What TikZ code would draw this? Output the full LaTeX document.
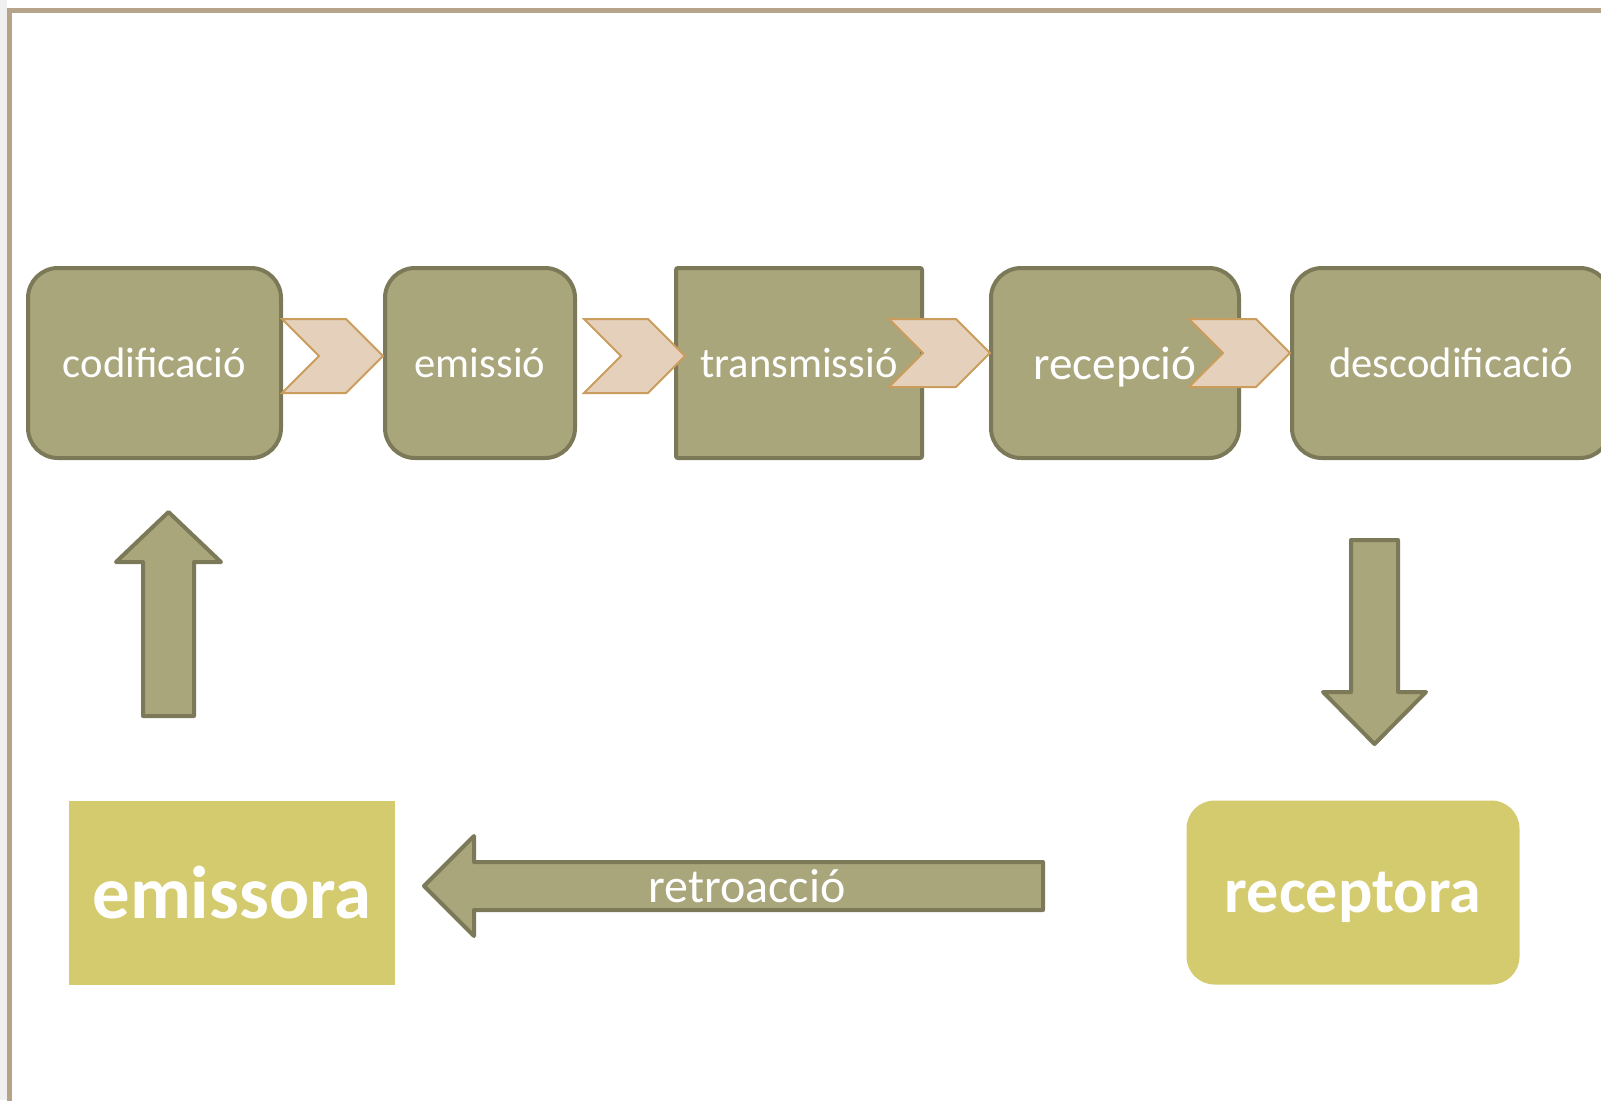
\documentclass[tikz,border=0pt]{standalone}
\usepackage{fontspec}
\setmainfont{Carlito}
\usetikzlibrary{shapes.symbols}
\definecolor{stagefill}{RGB}{169,166,124}
\definecolor{stageedge}{RGB}{124,121,89}
\definecolor{chevfill}{RGB}{228,208,187}
\definecolor{chevedge}{RGB}{203,157,92}
\definecolor{sand}{RGB}{211,203,110}
\definecolor{framecol}{RGB}{181,164,138}
\tikzset{
	stage/.style={
		draw=stageedge, fill=stagefill, line width=2pt,
		rectangle, rounded corners=15pt, minimum height=95pt,
		inner sep=0pt, text=white, font=\fontsize{21.3}{25}\selectfont
	},
	chevron/.style={
		signal, signal from=west, signal to=east, signal pointer angle=90,
		draw=chevedge, fill=chevfill, line width=1pt, inner sep=0pt,
		minimum width=50.5pt, minimum height=37pt
	},
	blockarrow/.style={
		draw=stageedge, fill=stagefill, line width=2pt, line join=round
	},
}

\begin{document}
\begin{tikzpicture}[x=0.5pt,y=-0.5pt,
		party/.style={
			fill=sand, inner sep=0pt, text=white,
			minimum width=163pt, minimum height=92pt,
			font=\bfseries\fontsize{37.4}{40}\selectfont
		}]
	\useasboundingbox (0,0) rectangle (1601,1100);
	\clip (0,0) rectangle (1601,1100);
	\fill[white] (0,0) rectangle (1601,1100);
	\fill[black!6] (0,0) rectangle (7,1100);
	\draw[framecol, line width=2.5pt] (1700,10) -- (9.5,10) -- (9.5,1200);

	\node[stage, minimum width=126.5pt] (cod) at (154.5,363) {codificació};
	\node[stage, minimum width=95pt] (emi) at (480,363) {emissió};
	\node[stage, rounded corners=1pt, minimum width=123pt] (tra) at (799,363) {transmissió};
	\node[stage, minimum width=124pt, text depth=0pt,
		font=\fontsize{23.6}{27}\selectfont] (rec) at (1115,363) {recepció};
	\node[stage, minimum width=159pt] (des) at (1451,363) {descodificació};

	\node[chevron] (ch1) at (332.5,356) {};
	\node[chevron] (ch2) at (634.5,356) {};
	\node[chevron, minimum height=34pt] (ch3) at (939.5,353) {};
	\node[chevron, minimum height=34pt] (ch4) at (1239.5,353) {};

	\node[party] (emis) at (231.8,892.5) {emissora};
	\node[party, rounded corners=14pt, minimum width=166.5pt, text depth=0pt,
		font=\bfseries\fontsize{32}{36}\selectfont] (recp) at (1353,892.5) {receptora};

	\draw[blockarrow] (143,716) -- (143,562) -- (116,562) -- (168.5,512)
		-- (221,562) -- (194,562) -- (194,716) -- cycle;
	\draw[blockarrow] (1351,540) -- (1398,540) -- (1398,692) -- (1426,692)
		-- (1374.5,744) -- (1323,692) -- (1351,692) -- cycle;
	\draw[blockarrow] (1043,862) -- (474,862) -- (474,836) -- (424,886)
		-- (474,936) -- (474,910) -- (1043,910) -- cycle;
	\node[text=white, font=\fontsize{24}{28}\selectfont] (retro) at (747,886) {retroacció};
\end{tikzpicture}
\end{document}
